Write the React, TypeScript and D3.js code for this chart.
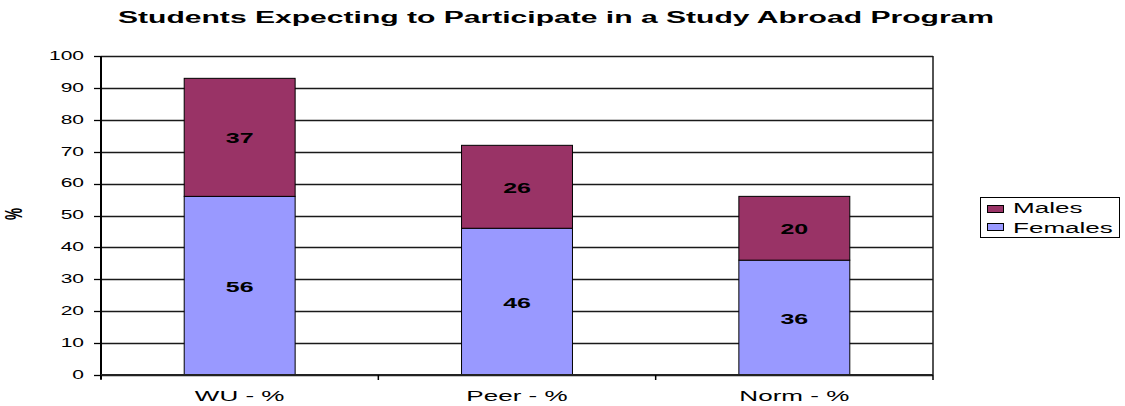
import React from "react";
import * as d3 from "d3";

const categories = ["WU - %", "Peer - %", "Norm - %"];
const females = [56, 46, 36];
const males = [37, 26, 20];
const yTicks = [0, 10, 20, 30, 40, 50, 60, 70, 80, 90, 100];
const seriesNames = ["Males", "Females"];
const seriesColors = ["#993366", "#9999FF"];

const W = 1125;
const H = 406;
const SX = 1.8; // horizontal glyph stretch
const FONT = "'Liberation Sans', Arial, Helvetica, sans-serif";

const plot = { left: 101, right: 933, top: 56, bottom: 375 };

function SText({ x, y, size, weight = "normal", anchor = "start", baseline = "auto", rotate = 0, sx = SX, children }: any) {
  return (
    <text
      transform={`translate(${x},${y}) scale(${sx},1)${rotate ? ` rotate(${rotate})` : ""}`}
      fontFamily={FONT}
      fontSize={size}
      fontWeight={weight}
      textAnchor={anchor}
      dominantBaseline={baseline}
      fill="#000"
    >
      {children}
    </text>
  );
}

export default function App() {
  const y = d3.scaleLinear().domain([0, 100]).range([plot.bottom, plot.top]);
  const x = d3
    .scaleBand<string>()
    .domain(categories)
    .range([plot.left, plot.right])
    .paddingInner(0.6)
    .paddingOuter(0.3);
  const step = x.step();
  const bw = x.bandwidth();
  const boundaries = d3.range(categories.length + 1).map((i) => plot.left + i * step);

  return (
    <svg width={W} height={H} style={{ position: "absolute", left: 0, top: 0, background: "#fff" }}>
      <rect x={0} y={0} width={W} height={H} fill="#fff" />
      {/* title */}
      <SText x={556} y={22.5} size={17} weight="bold" anchor="middle" sx={1.77}>
        Students Expecting to Participate in a Study Abroad Program
      </SText>

      {/* gridlines */}
      {yTicks.map((t) => (
        <line key={t} x1={plot.left} x2={plot.right} y1={Math.round(y(t)) + 0.5} y2={Math.round(y(t)) + 0.5} stroke="#1a1a1a" strokeWidth={1.3} />
      ))}
      {/* plot border */}
      <line x1={plot.right} x2={plot.right} y1={plot.top} y2={plot.bottom} stroke="#1a1a1a" strokeWidth={1.5} />

      {/* bars */}
      {categories.map((c, i) => {
        const x0 = x(c)!;
        const f = females[i];
        const m = males[i];
        return (
          <g key={c}>
            <rect x={x0} y={y(f)} width={bw} height={y(0) - y(f)} fill={seriesColors[1]} stroke="#000" strokeWidth={1} />
            <rect x={x0} y={y(f + m)} width={bw} height={y(f) - y(f + m)} fill={seriesColors[0]} stroke="#000" strokeWidth={1} />
            <SText x={x0 + bw / 2} y={(y(0) + y(f)) / 2 + 1} size={14.5} weight="bold" anchor="middle" baseline="central" sx={1.72}>
              {f}
            </SText>
            <SText x={x0 + bw / 2} y={(y(f) + y(f + m)) / 2 + 1} size={14.5} weight="bold" anchor="middle" baseline="central" sx={1.72}>
              {m}
            </SText>
          </g>
        );
      })}

      {/* y axis */}
      <line x1={plot.left} x2={plot.left} y1={plot.top} y2={plot.bottom + 4} stroke="#000" strokeWidth={2} />
      {yTicks.map((t) => (
        <g key={t}>
          <line x1={plot.left - 7} x2={plot.left} y1={Math.round(y(t)) + 0.5} y2={Math.round(y(t)) + 0.5} stroke="#000" strokeWidth={1.3} />
          <SText x={84} y={y(t)} size={12} anchor="end" baseline="central" sx={1.75}>
            {t}
          </SText>
        </g>
      ))}
      <SText x={13} y={214} size={13.5} weight="bold" anchor="middle" baseline="central" rotate={-90}>
        %
      </SText>

      {/* x axis */}
      <line x1={plot.left} x2={plot.right} y1={plot.bottom} y2={plot.bottom} stroke="#222" strokeWidth={2} />
      {boundaries.map((bx, i) => (
        <line key={i} x1={bx} x2={bx} y1={plot.bottom} y2={plot.bottom + 5} stroke="#000" strokeWidth={1.5} />
      ))}
      {categories.map((c) => (
        <SText key={c} x={x(c)! + bw / 2} y={401} size={14.8} anchor="middle" sx={1.76}>
          {c}
        </SText>
      ))}

      {/* legend */}
      <rect x={980.5} y={197.5} width={139} height={40} fill="#fff" stroke="#000" strokeWidth={1} />
      {seriesNames.map((s, i) => (
        <g key={s}>
          <rect x={987.5} y={205.5 + i * 18} width={16} height={7} fill={seriesColors[i]} stroke="#000" strokeWidth={1} />
          <SText x={1013} y={213 + i * 20} size={14.8} sx={1.76}>
            {s}
          </SText>
        </g>
      ))}
    </svg>
  );
}
